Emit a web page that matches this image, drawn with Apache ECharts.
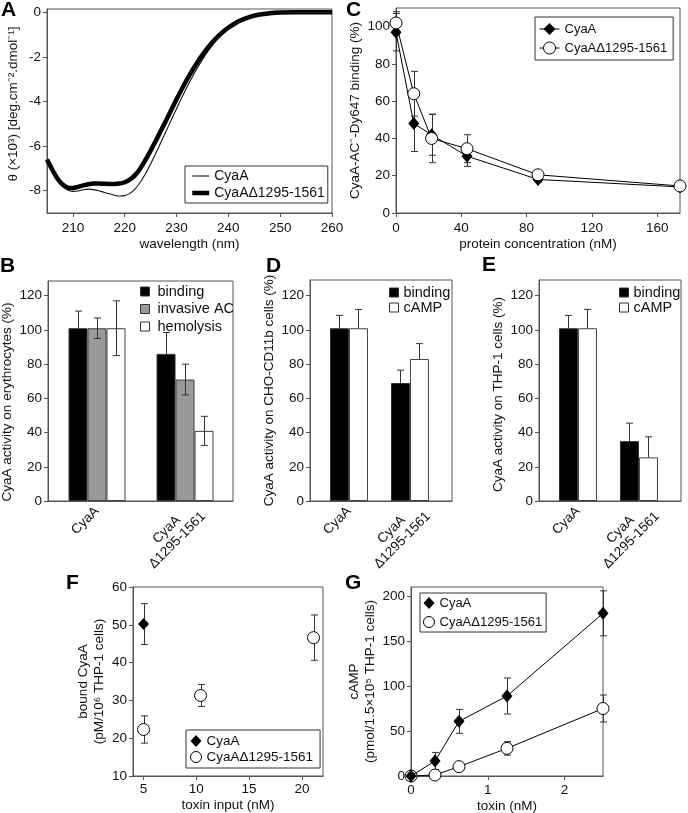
<!DOCTYPE html>
<html><head><meta charset="utf-8">
<script src="https://cdn.jsdelivr.net/npm/echarts@6/dist/echarts.min.js"></script>
<style>html,body{margin:0;padding:0;background:#fff}#c{width:688px;height:813px}</style>
</head><body><div id="c"></div>
<script>
// ---------- Panel A: CD spectra ----------
const wavelengthA = [205,206,207,208,209,210,211,212,213,214,215,216,217,218,219,220,221,222,223,224,225,226,227,228,229,230,231,232,233,234,235,236,237,238,239,240,242,244,246,248,250,253,256,260];
const cdCyaA = [-6.6,-7.05,-7.45,-7.78,-7.97,-8.03,-8.01,-7.96,-7.93,-7.95,-8.0,-8.07,-8.14,-8.2,-8.24,-8.22,-8.12,-7.92,-7.62,-7.24,-6.8,-6.32,-5.82,-5.32,-4.82,-4.32,-3.83,-3.36,-2.92,-2.5,-2.12,-1.77,-1.46,-1.18,-0.94,-0.73,-0.42,-0.22,-0.1,-0.04,-0.01,0,0,0];
const cdDelta = [-6.6,-7.05,-7.45,-7.72,-7.86,-7.88,-7.83,-7.76,-7.71,-7.68,-7.68,-7.69,-7.7,-7.7,-7.68,-7.62,-7.5,-7.3,-7.0,-6.62,-6.2,-5.76,-5.3,-4.84,-4.37,-3.9,-3.45,-3.02,-2.62,-2.25,-1.91,-1.6,-1.32,-1.08,-0.87,-0.69,-0.4,-0.21,-0.1,-0.04,-0.01,0,0,0];
const ticksAx = [210,220,230,240,250,260];
const ticksAy = [-8,-6,-4,-2,0];

// ---------- Panel C: competition binding ----------
const concC = [0, 10.9, 21.8, 43.5, 87, 174];
const bindCyaA = [97, 48, 42, 30.5, 18, 14];
const bindCyaAErr = [10, 15, 11, 5.5, 1.5, 1.5];
const bindDelta = [102, 64, 40, 34.5, 20.5, 14.5];
const bindDeltaErr = [6, 12, 13, 7.5, 1.5, 1];
const ticksCx = [0,40,80,120,160];
const ticksCy = [0,20,40,60,80,100];

// ---------- Panels B, D, E: bars ----------
const categories = ['CyaA', 'CyaA\nΔ1295-1561'];
const ticksBar = [0,20,40,60,80,100,120];
const bBinding = [101, 86],   bBindingErr = [10, 12.5];
const bInvasive = [101, 71],  bInvasiveErr = [6, 9];
const bHemolysis = [101, 41], bHemolysisErr = [16, 8.5];
const dBinding = [101, 69],   dBindingErr = [7.5, 7.5];
const dCamp = [101, 83],      dCampErr = [11, 9];
const eBinding = [101, 35],   eBindingErr = [7.5, 10.5];
const eCamp = [101, 25.5],    eCampErr = [11, 12];

// ---------- Panel F: bound toxin ----------
const fCyaAX = [5], fCyaA = [50.2], fCyaAErr = [5.4];
const fDeltaX = [5, 10.4, 21.1], fDelta = [22.3, 31.3, 46.6], fDeltaErr = [3.6, 2.9, 6];
const ticksFx = [5,10,15,20];
const ticksFy = [10,20,30,40,50,60];

// ---------- Panel G: cAMP ----------
const toxinG = [0, 0.3125, 0.625, 1.25, 2.5];
const gCyaA = [0, 16.7, 60.7, 88.9, 180.7], gCyaAErr = [0, 9.5, 13.3, 20, 25];
const gDelta = [0, 1.1, 10.4, 30.7, 75],    gDeltaErr = [0, 0, 0, 7.5, 15];
const ticksGx = [0,1,2];
const ticksGy = [0,50,100,150,200];

// ---------- styling ----------
const FONT = '"Liberation Sans", Arial, Helvetica, sans-serif';
const FS = 13.5;
const AX = '#555';
const TXT = '#111';
const grids = [], xAxes = [], yAxes = [], series = [], legends = [];

function addGrid(left, top, width, height) {
  grids.push({left, top, width, height, show: true, borderColor: AX, borderWidth: 1,
    backgroundColor: 'transparent', containLabel: false, outerBoundsMode: 'none'});
  return grids.length - 1;
}
function axis(gi, o) {
  const a = {
    type: 'value', gridIndex: gi, min: o.min, max: o.max,
    axisLine: {show: true, onZero: false, lineStyle: {color: AX, width: 1}},
    axisTick: {show: o.showTick !== false, customValues: o.ticks, length: 4, lineStyle: {color: AX}},
    axisLabel: {customValues: o.labelValues || o.ticks, color: TXT, fontSize: FS, fontFamily: FONT, margin: o.margin == null ? 6 : o.margin},
    splitLine: {show: false},
    name: o.name || '', nameLocation: 'middle', nameGap: o.nameGap || 25,
    nameTextStyle: {color: TXT, fontSize: FS, fontFamily: FONT, lineHeight: 16, padding: o.namePad || 0}
  };
  if (o.formatter) a.axisLabel.formatter = o.formatter;
  if (o.rotate) a.axisLabel.rotate = o.rotate;
  if (o.rich) a.axisLabel.rich = o.rich;
  return a;
}
const errRender = (dx, cap) => function (params, api) {
  const x = api.value(0), lo = api.value(1), hi = api.value(2), lowCap = api.value(3);
  const p1 = api.coord([x, hi]), p0 = api.coord([x, lo]);
  const X = Math.round(p1[0] + dx) + 0.5;
  const st = {stroke: '#333', lineWidth: 1};
  const ch = [
    {type: 'line', shape: {x1: X, y1: p0[1], x2: X, y2: p1[1]}, style: st},
    {type: 'line', shape: {x1: X - cap, y1: p1[1], x2: X + cap, y2: p1[1]}, style: st}
  ];
  if (lowCap) ch.push({type: 'line', shape: {x1: X - cap, y1: p0[1], x2: X + cap, y2: p0[1]}, style: st});
  return {type: 'group', children: ch};
};
function errSeries(gi, xs, vals, errs, opt) {
  const data = [];
  xs.forEach((x, i) => {
    if (errs[i] > 0) data.push([x, opt.upOnly ? vals[i] : vals[i] - errs[i], vals[i] + errs[i], opt.upOnly ? 0 : 1]);
  });
  return {type: 'custom', xAxisIndex: gi, yAxisIndex: gi, data, renderItem: errRender(opt.dx || 0, opt.cap || 3.5),
    z: opt.z || 1, silent: true, clip: false, encode: {x: 0, y: [1, 2]}};
}
const stripName = n => n.split('|')[1];
const legendText = fs => ({color: TXT, fontSize: fs, fontFamily: FONT, lineHeight: 16});

// ---------- Panel A ----------
const gA = addGrid(47, 9, 285, 204);
xAxes.push(axis(gA, {min: 205, max: 260, ticks: ticksAx, name: 'wavelength (nm)', nameGap: 22, margin: 8}));
yAxes.push(axis(gA, {min: -9, max: 0.15, ticks: ticksAy, name: 'θ (×10³) [deg.cm⁻².dmol⁻¹]', nameGap: 26, namePad: [0, 0, 0, 14]}));
series.push({type: 'line', name: 'A|CyaAΔ1295-1561', xAxisIndex: gA, yAxisIndex: gA, symbol: 'none', smooth: 0.2,
  data: wavelengthA.map((w, i) => [w, cdDelta[i]]), lineStyle: {color: '#000', width: 4.5}, itemStyle: {color: '#000'}, z: 2});
series.push({type: 'line', name: 'A|CyaA', xAxisIndex: gA, yAxisIndex: gA, symbol: 'none', smooth: 0.2,
  data: wavelengthA.map((w, i) => [w, cdCyaA[i]]), lineStyle: {color: '#111', width: 1.1}, itemStyle: {color: '#111'}, z: 3});
legends.push({left: 185, top: 166, orient: 'vertical', borderColor: '#333', borderWidth: 1, padding: [2, 3, 2, 5],
  itemGap: 1, itemWidth: 17, itemHeight: 14, selectedMode: false, formatter: stripName, textStyle: legendText(14),
  data: [{name: 'A|CyaA', lineStyle: {width: 1.1, color: '#111'}, itemStyle: {opacity: 0}},
         {name: 'A|CyaAΔ1295-1561', lineStyle: {width: 4.5, color: '#000'}, itemStyle: {opacity: 0}}]});

// ---------- Panel C ----------
const gC = addGrid(396, 8, 284, 205);
xAxes.push(axis(gC, {min: 0, max: 174, ticks: ticksCx, name: 'protein concentration (nM)', nameGap: 22, margin: 8}));
yAxes.push(axis(gC, {min: 0, max: 110, ticks: ticksCy, name: 'CyaA-AC⁻-Dy647 binding (%)', nameGap: 31}));
series.push(errSeries(gC, concC, bindCyaA, bindCyaAErr, {}));
series.push(errSeries(gC, concC, bindDelta, bindDeltaErr, {}));
series.push({type: 'line', name: 'C|CyaA', xAxisIndex: gC, yAxisIndex: gC, showSymbol: true, symbol: 'diamond', symbolSize: [11, 13],
  data: concC.map((x, i) => [x, bindCyaA[i]]), lineStyle: {color: '#000', width: 1}, itemStyle: {color: '#000'}, z: 3});
series.push({type: 'line', name: 'C|CyaAΔ1295-1561', xAxisIndex: gC, yAxisIndex: gC, showSymbol: true, symbol: 'circle', symbolSize: 12,
  data: concC.map((x, i) => [x, bindDelta[i]]), lineStyle: {color: '#000', width: 1},
  itemStyle: {color: '#fff', borderColor: '#000', borderWidth: 1}, z: 4});
legends.push({left: 535, top: 17, orient: 'vertical', borderColor: '#333', borderWidth: 1, padding: [4, 6, 4, 4],
  itemGap: 3, itemWidth: 20, itemHeight: 15, selectedMode: false, formatter: stripName, textStyle: legendText(13),
  data: [{name: 'C|CyaA', itemStyle: {color: '#000', borderWidth: 0}, lineStyle: {color: '#000', width: 1}},
         {name: 'C|CyaAΔ1295-1561', itemStyle: {color: '#fff', borderColor: '#000', borderWidth: 1}, lineStyle: {color: '#000', width: 1}}]});

// ---------- Bar panels ----------
const BW = 19;
const LABEL_SHIFT = 13;
const richLab = {c: {align: 'center', fontSize: FS, fontFamily: FONT, color: TXT, lineHeight: 15}};
const catFormatter = v => {
  const s = categories[Math.round(v)];
  return s.indexOf('\n') < 0 ? s : s.split('\n').map(t => '{c|' + t + '}').join('\n');
};
function barPanel(key, left, top, width, height, xmin, xmax, ymax, list, nameTxt, nameGap, namePad, leg) {
  const gi = addGrid(left, top, width, height);
  const ppu = width / (xmax - xmin);
  xAxes.push(axis(gi, {min: xmin, max: xmax, ticks: [0, 1], labelValues: [0, 1 + LABEL_SHIFT / ppu], showTick: false,
    formatter: catFormatter, rotate: 45, rich: richLab, margin: 8}));
  yAxes.push(axis(gi, {min: 0, max: ymax, ticks: ticksBar, name: nameTxt, nameGap: nameGap, namePad: namePad}));
  const n = list.length;
  list.forEach((s, k) => {
    series.push({type: 'bar', name: key + '|' + s.name, xAxisIndex: gi, yAxisIndex: gi, barWidth: BW, barGap: '0%',
      data: s.vals.map((v, i) => [i, v]), itemStyle: {color: s.color, borderColor: s.border, borderWidth: 1}, z: 2});
    series.push(errSeries(gi, s.vals.map((v, i) => i), s.vals, s.errs, {dx: (k - (n - 1) / 2) * BW, upOnly: s.upOnly, z: 3}));
  });
  legends.push(Object.assign({orient: 'vertical', padding: 0, itemWidth: 9, itemHeight: 9, selectedMode: false,
    formatter: stripName, textStyle: Object.assign(legendText(14.5), {lineHeight: 15}),
    data: list.map(s => ({name: key + '|' + s.name, icon: 'rect', itemStyle: {color: s.color, borderColor: '#333', borderWidth: 1}}))}, leg));
}
barPanel('B', 48, 281, 185, 220, -0.557, 1.545, 128.6, [
  {name: 'binding', vals: bBinding, errs: bBindingErr, color: '#000', border: '#333', upOnly: true},
  {name: 'invasive AC', vals: bInvasive, errs: bInvasiveErr, color: '#999', border: '#444', upOnly: false},
  {name: 'hemolysis', vals: bHemolysis, errs: bHemolysisErr, color: '#fff', border: '#444', upOnly: false}
], 'CyaA activity on erythrocytes (%)', 30, [0, 22, 0, 0], {left: 140, top: 284, itemGap: 2.5, textStyle: Object.assign(legendText(14.5), {lineHeight: 15, padding: [0, 0, 0, 3]})});
barPanel('D', 310, 280, 142, 221, -0.639, 1.689, 129.2, [
  {name: 'binding', vals: dBinding, errs: dBindingErr, color: '#000', border: '#333', upOnly: true},
  {name: 'cAMP', vals: dCamp, errs: dCampErr, color: '#fff', border: '#444', upOnly: true}
], 'CyaA activity on CHO-CD11b cells (%)', 25, 0, {left: 389, top: 285, itemGap: 0});
barPanel('E', 539, 280, 142, 221, -0.639, 1.689, 129.2, [
  {name: 'binding', vals: eBinding, errs: eBindingErr, color: '#000', border: '#333', upOnly: true},
  {name: 'cAMP', vals: eCamp, errs: eCampErr, color: '#fff', border: '#444', upOnly: true}
], 'CyaA activity on THP-1 cells (%)', 30, [0, 8, 0, 0], {left: 619, top: 285, itemGap: 0});

// ---------- Panel F ----------
const gF = addGrid(133, 587, 190, 189);
xAxes.push(axis(gF, {min: 4, max: 22, ticks: ticksFx, name: 'toxin input (nM)', nameGap: 21, margin: 6}));
yAxes.push(axis(gF, {min: 10, max: 60, ticks: ticksFy, name: 'bound CyaA\n(pM/10⁶ THP-1 cells)', nameGap: 26}));
series.push(errSeries(gF, fCyaAX, fCyaA, fCyaAErr, {}));
series.push(errSeries(gF, fDeltaX, fDelta, fDeltaErr, {}));
series.push({type: 'scatter', name: 'F|CyaA', xAxisIndex: gF, yAxisIndex: gF, symbol: 'diamond', symbolSize: [11, 12],
  data: fCyaAX.map((x, i) => [x, fCyaA[i]]), itemStyle: {color: '#000', opacity: 1}, z: 3});
series.push({type: 'scatter', name: 'F|CyaAΔ1295-1561', xAxisIndex: gF, yAxisIndex: gF, symbol: 'circle', symbolSize: 12,
  data: fDeltaX.map((x, i) => [x, fDelta[i]]), itemStyle: {color: '#fff', borderColor: '#000', borderWidth: 1, opacity: 1}, z: 3});
legends.push({left: 186, top: 730, orient: 'vertical', borderColor: '#333', borderWidth: 1, padding: [3, 7, 3, 4],
  itemGap: 0, itemWidth: 11, itemHeight: 12, selectedMode: false, formatter: stripName, textStyle: legendText(13.5),
  data: [{name: 'F|CyaA', icon: 'diamond', itemStyle: {color: '#000', borderWidth: 0}},
         {name: 'F|CyaAΔ1295-1561', icon: 'circle', itemStyle: {color: '#fff', borderColor: '#000', borderWidth: 1}}]});

// ---------- Panel G ----------
const gG = addGrid(411, 587, 192, 189);
xAxes.push(axis(gG, {min: 0, max: 2.5, ticks: ticksGx, name: 'toxin (nM)', nameGap: 21, margin: 7}));
yAxes.push(axis(gG, {min: 0, max: 210, ticks: ticksGy, name: 'cAMP\n(pmol/1.5×10⁵ THP-1 cells)', nameGap: 29}));
series.push(errSeries(gG, toxinG, gCyaA, gCyaAErr, {}));
series.push(errSeries(gG, toxinG, gDelta, gDeltaErr, {}));
series.push({type: 'line', name: 'G|CyaAΔ1295-1561', xAxisIndex: gG, yAxisIndex: gG, showSymbol: true, symbol: 'circle', symbolSize: 12,
  data: toxinG.map((x, i) => [x, gDelta[i]]), lineStyle: {color: '#000', width: 1},
  itemStyle: {color: '#fff', borderColor: '#000', borderWidth: 1}, z: 3, clip: false});
series.push({type: 'line', name: 'G|CyaA', xAxisIndex: gG, yAxisIndex: gG, showSymbol: true, symbol: 'diamond', symbolSize: [11, 13],
  data: toxinG.map((x, i) => [x, gCyaA[i]]), lineStyle: {color: '#000', width: 1}, itemStyle: {color: '#000'}, z: 4, clip: false});
legends.push({left: 420, top: 593, orient: 'vertical', borderColor: '#333', borderWidth: 1, padding: [2, 4, 2, 3],
  itemGap: 3, itemWidth: 11, itemHeight: 12, selectedMode: false, formatter: stripName, textStyle: legendText(13),
  data: [{name: 'G|CyaA', icon: 'diamond', itemStyle: {color: '#000', borderWidth: 0}},
         {name: 'G|CyaAΔ1295-1561', icon: 'circle', itemStyle: {color: '#fff', borderColor: '#000', borderWidth: 1}}]});

// ---------- panel letters ----------
const letters = [['A', 1, 0], ['C', 346, 0], ['B', 0, 256], ['D', 266, 256], ['E', 482, 255], ['F', 66, 573], ['G', 345, 573]];

const chart = echarts.init(document.getElementById('c'), null, {renderer: 'canvas'});
chart.setOption({
  animation: false,
  backgroundColor: '#fff',
  textStyle: {fontFamily: FONT},
  title: letters.map(([t, l, tp]) => ({text: t, left: l, top: tp, padding: 0,
    textStyle: {fontSize: 21, fontWeight: 'bold', fontFamily: FONT, color: '#000'}})),
  grid: grids, xAxis: xAxes, yAxis: yAxes, legend: legends, series: series,
  tooltip: {show: false}
});
</script></body></html>
